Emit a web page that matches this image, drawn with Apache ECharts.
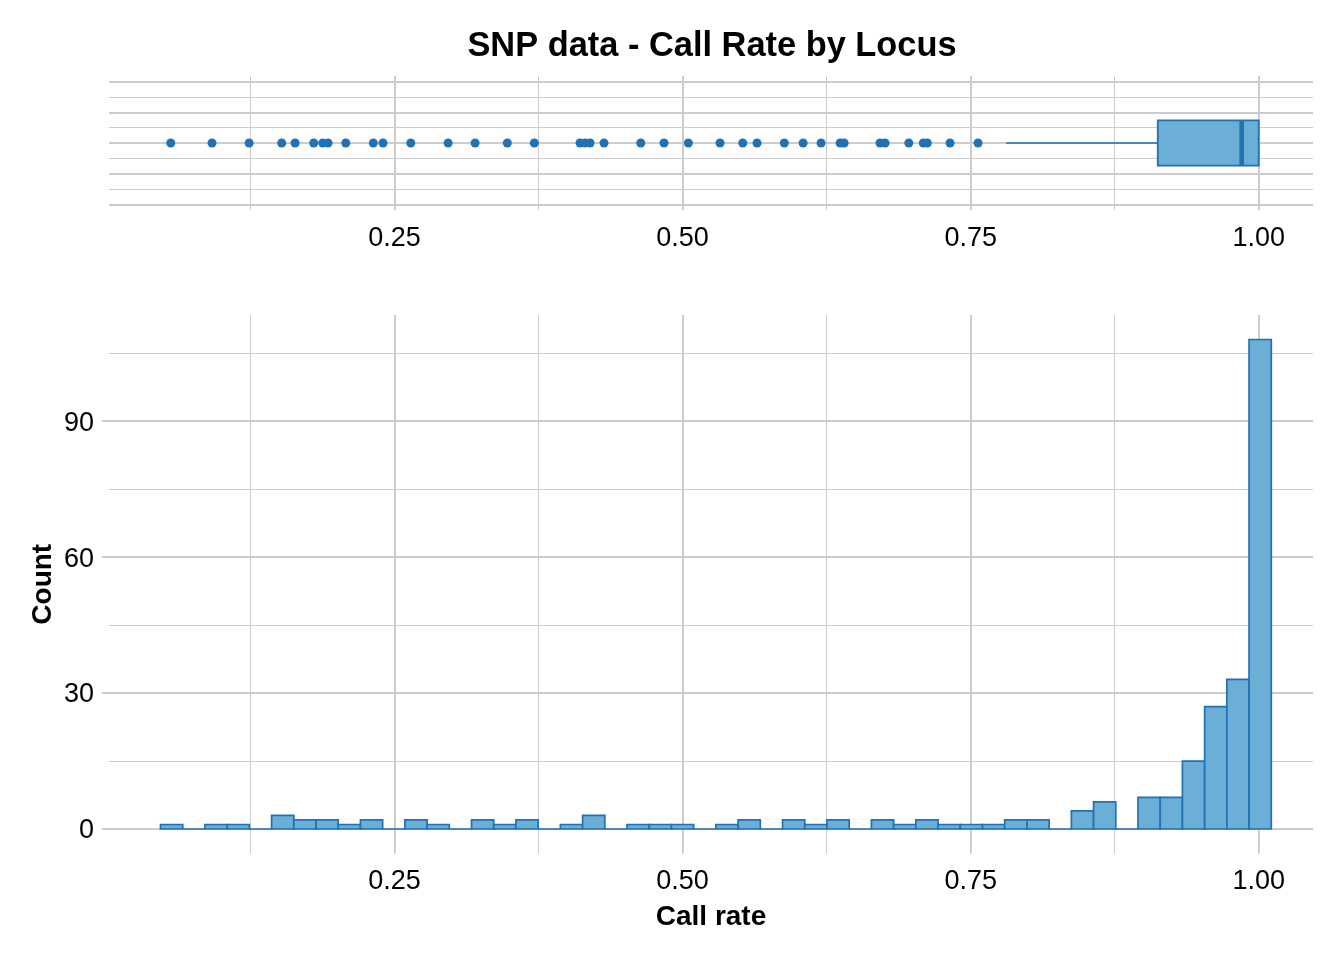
<!DOCTYPE html>
<html>
<head>
<meta charset="utf-8">
<script src="https://cdn.jsdelivr.net/npm/echarts@6/dist/echarts.min.js"></script>
<style>
  html, body { margin: 0; padding: 0; background: #ffffff; }
  #chart { width: 1344px; height: 960px; }
</style>
</head>
<body>
<div id="chart"></div>
<script>
// ---------------- data ----------------
const titleText = 'SNP data - Call Rate by Locus';
const xTitle = 'Call rate';
const yTitle = 'Count';

// histogram: 50 bins
const binStart = 0.0469;     // left edge of first bin
const binWidth = 0.01928;
const binCounts = [1,0,1,1,0,3,2,2,1,2,0,2,1,0,2,1,2,0,1,3,0,1,1,1,0,1,2,0,2,1,2,0,2,1,2,1,1,1,2,2,0,4,6,0,7,7,15,27,33,108];

// boxplot summary: [lower whisker, Q1, median, Q3, upper whisker]
const boxStats = [0.7807, 0.9124, 0.9852, 1.0, 1.0];
// outliers
const outliers = [0.0558,0.0916,0.1238,0.1521,0.1637,0.1799,0.1877,0.1923,0.2077,0.2316,0.2400,0.2641,0.2965,0.3199,0.3479,0.3713,
  0.4110,0.4154,0.4197,0.4318,0.4637,0.4839,0.5050,0.5325,0.5522,0.5646,0.5883,0.6046,0.6202,0.6367,0.6402,0.6713,0.6757,0.6963,0.7089,0.7124,0.7321,0.7564];

// axis ticks / gridlines
const xMajor = [0.25, 0.50, 0.75, 1.00];
const xMinor = [0.125, 0.375, 0.625, 0.875];
const yMajor = [0, 30, 60, 90];
const yMinor = [15, 45, 75, 105];
const topMajor = [-4, -2, 0, 2, 4];
const topMinor = [-3, -1, 1, 3];

// ---------------- style ----------------
const FONT = "'Liberation Sans', Arial, sans-serif";
const GRID = '#cccccc';
const FILL = '#6baed6';
const EDGE = '#2171b5';
const xMin = 0.0022, xMax = 1.0471;

function gridLines(xs1, xs2, ys1, ys2) {
  const d = [];
  xs2.forEach(v => d.push({ xAxis: v, lineStyle: { width: 1, color: GRID, type: 'solid' } }));
  ys2.forEach(v => d.push({ yAxis: v, lineStyle: { width: 1, color: GRID, type: 'solid' } }));
  xs1.forEach(v => d.push({ xAxis: v, lineStyle: { width: 2, color: GRID, type: 'solid' } }));
  ys1.forEach(v => d.push({ yAxis: v, lineStyle: { width: 2, color: GRID, type: 'solid' } }));
  return d;
}

const histData = binCounts.map((c, i) => [binStart + i * binWidth, binStart + (i + 1) * binWidth, c]);

const chart = echarts.init(document.getElementById('chart'), null, { renderer: 'canvas' });

const option = {
  backgroundColor: '#ffffff',
  animation: false,
  title: {
    text: titleText,
    left: 707,
    top: 25,
    textAlign: 'center',
    textStyle: { fontFamily: FONT, fontSize: 34.4, fontWeight: 'bold', color: '#000000' }
  },
  grid: [
    { left: 109, right: 31, top: 76, height: 134, containLabel: false, outerBoundsMode: 'none' },
    { left: 109, right: 31, top: 315, height: 538.5, containLabel: false, outerBoundsMode: 'none' }
  ],
  xAxis: [
    {
      gridIndex: 0, type: 'value', min: xMin, max: xMax,
      axisLine: { show: false },
      axisTick: { show: true, length: 7, customValues: xMajor, lineStyle: { color: GRID, width: 2 } },
      axisLabel: { show: true, customValues: xMajor, margin: 15, fontFamily: FONT, fontSize: 27, color: '#000000',
        formatter: v => Number(v).toFixed(2) },
      splitLine: { show: false }
    },
    {
      gridIndex: 1, type: 'value', min: xMin, max: xMax,
      name: xTitle, nameLocation: 'middle', nameGap: 50, nameMoveOverlap: false,
      nameTextStyle: { fontFamily: FONT, fontSize: 28, fontWeight: 'bold', color: '#000000' },
      axisLine: { show: false },
      axisTick: { show: true, length: 7, customValues: xMajor, lineStyle: { color: GRID, width: 2 } },
      axisLabel: { show: true, customValues: xMajor, margin: 15, fontFamily: FONT, fontSize: 27, color: '#000000',
        formatter: v => Number(v).toFixed(2) },
      splitLine: { show: false }
    }
  ],
  yAxis: [
    {
      gridIndex: 0, type: 'value', min: -4.37, max: 4.37,
      axisLine: { show: false }, axisTick: { show: false }, axisLabel: { show: false }, splitLine: { show: false }
    },
    {
      gridIndex: 1, type: 'value', min: -5.4, max: 113.4,
      name: yTitle, nameLocation: 'middle', nameGap: 52, nameRotate: 90, nameMoveOverlap: false,
      nameTextStyle: { fontFamily: FONT, fontSize: 28, fontWeight: 'bold', color: '#000000' },
      axisLine: { show: false },
      axisTick: { show: true, length: 7, customValues: yMajor, lineStyle: { color: GRID, width: 2 } },
      axisLabel: { show: true, customValues: yMajor, margin: 15, verticalAlign: 'top', lineHeight: 4,
        fontFamily: FONT, fontSize: 27, color: '#000000' },
      splitLine: { show: false }
    }
  ],
  series: [
    // gridlines top panel
    {
      type: 'line', xAxisIndex: 0, yAxisIndex: 0, data: [], z: 1, silent: true,
      markLine: { silent: true, z: 1, precision: 6, symbol: ['none', 'none'], label: { show: false }, animation: false,
        data: gridLines(xMajor, xMinor, topMajor, topMinor) }
    },
    // gridlines bottom panel
    {
      type: 'line', xAxisIndex: 1, yAxisIndex: 1, data: [], z: 1, silent: true,
      markLine: { silent: true, z: 1, precision: 6, symbol: ['none', 'none'], label: { show: false }, animation: false,
        data: gridLines(xMajor, xMinor, yMajor, yMinor) }
    },
    // outliers
    {
      type: 'scatter', xAxisIndex: 0, yAxisIndex: 0, z: 3,
      symbol: 'circle', symbolSize: 9,
      itemStyle: { color: EDGE, opacity: 1 },
      data: outliers.map(v => [v, 0])
    },
    // boxplot
    {
      type: 'custom', xAxisIndex: 0, yAxisIndex: 0, z: 3,
      data: [boxStats],
      encode: { x: [0, 1, 2, 3, 4] },
      renderItem: function (params, api) {
        const half = 1.48;
        const lo = api.value(0), q1 = api.value(1), md = api.value(2), q3 = api.value(3), hi = api.value(4);
        const pLo = api.coord([lo, 0]);
        const pQ1 = api.coord([q1, 0]);
        const pQ3 = api.coord([q3, 0]);
        const pHi = api.coord([hi, 0]);
        const tl = api.coord([q1, half]);
        const br = api.coord([q3, -half]);
        const mt = api.coord([md, half]);
        const mb = api.coord([md, -half]);
        return {
          type: 'group',
          children: [
            { type: 'line', shape: { x1: pLo[0], y1: pLo[1], x2: pQ1[0], y2: pQ1[1] }, style: { stroke: EDGE, lineWidth: 1.7 } },
            { type: 'line', shape: { x1: pQ3[0], y1: pQ3[1], x2: pHi[0], y2: pHi[1] }, style: { stroke: EDGE, lineWidth: 1.7 } },
            { type: 'rect', shape: { x: tl[0], y: tl[1], width: br[0] - tl[0], height: br[1] - tl[1] },
              style: { fill: FILL, stroke: EDGE, lineWidth: 1.8 } },
            { type: 'line', shape: { x1: mt[0], y1: mt[1], x2: mb[0], y2: mb[1] }, style: { stroke: EDGE, lineWidth: 4.6 } }
          ]
        };
      }
    },
    // histogram
    {
      type: 'custom', xAxisIndex: 1, yAxisIndex: 1, z: 3,
      data: histData,
      encode: { x: [0, 1], y: 2 },
      renderItem: function (params, api) {
        const p0 = api.coord([api.value(0), api.value(2)]);
        const p1 = api.coord([api.value(1), 0]);
        return {
          type: 'rect',
          shape: { x: p0[0], y: p0[1], width: p1[0] - p0[0], height: p1[1] - p0[1] },
          style: { fill: FILL, stroke: EDGE, lineWidth: 1.7 }
        };
      }
    }
  ]
};

chart.setOption(option);
</script>
</body>
</html>
